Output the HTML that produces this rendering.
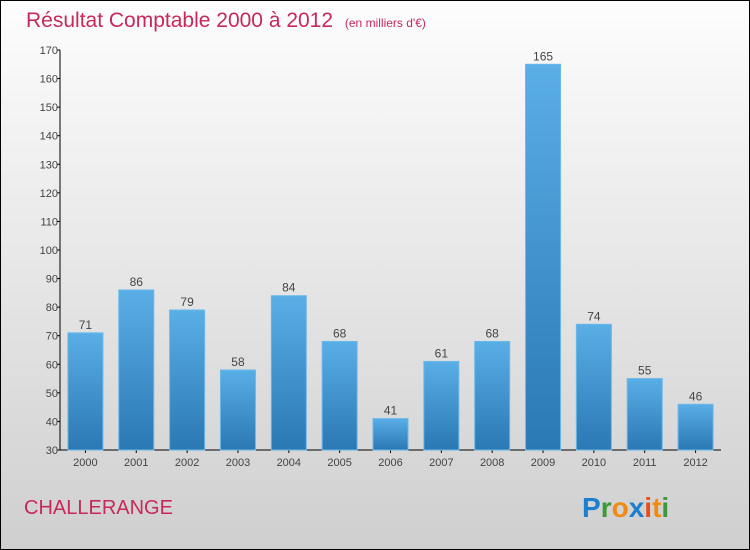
<!DOCTYPE html>
<html><head><meta charset="utf-8"><style>
body{margin:0;width:750px;height:550px;overflow:hidden}
svg{display:block;font-family:"Liberation Sans",sans-serif}
</style></head><body>
<svg id="c" width="750" height="550">
<defs>
<linearGradient id="bg" x1="0" y1="0" x2="0" y2="1"><stop offset="0" stop-color="#fdfdfd"/><stop offset="1" stop-color="#cfcfcf"/></linearGradient>
<linearGradient id="bar" x1="0" y1="0" x2="0" y2="1"><stop offset="0" stop-color="#5aaee6"/><stop offset="1" stop-color="#2a78b4"/></linearGradient>
</defs>
<rect x="0.5" y="0.5" width="749" height="549" fill="url(#bg)" stroke="#000"/>
<text x="26" y="27" font-size="21" fill="#c8285a">Résultat Comptable 2000 à 2012 <tspan font-size="12" dx="6">(en milliers d'€)</tspan></text>
<text x="24" y="514" font-size="20" fill="#c8285a">CHALLERANGE</text>
<g font-size="28" font-weight="bold">
<text x="582" y="517"><tspan fill="#1a7fd0">P</tspan><tspan fill="#3a9a3a">r</tspan><tspan fill="#f08a10">o</tspan><tspan fill="#1a7fd0">x</tspan><tspan fill="#e8501a">i</tspan><tspan fill="#f08a10">t</tspan><tspan fill="#3a9a3a">i</tspan></text>
</g>
<g id="axes"></g>
<g id="bars"></g>
</svg>
<script>
const categories=["2000","2001","2002","2003","2004","2005","2006","2007","2008","2009","2010","2011","2012"];
const values=[71,86,79,58,84,68,41,61,68,165,74,55,46];
const yTicks=[30,40,50,60,70,80,90,100,110,120,130,140,150,160,170];
const NS="http://www.w3.org/2000/svg";
const y0=450,y1=50,vMin=30,vMax=170,xL=60,xR=721;
const y=v=>y0-(v-vMin)*(y0-y1)/(vMax-vMin);
const step=(xR-xL)/categories.length;
const x=i=>xL+step*(i+0.5);
function mk(t,a,p){const e=document.createElementNS(NS,t);for(const k in a)e.setAttribute(k,a[k]);p.appendChild(e);return e;}
const ax=document.getElementById('axes'),bg=document.getElementById('bars');
let l=mk('line',{x1:xL,y1:y1,x2:xL,y2:y0,stroke:'#000'},ax);


l=mk('line',{x1:xL,y1:y0,x2:xR,y2:y0,stroke:'#000'},ax);


yTicks.forEach(v=>{
 const t=mk('line',{x1:xL-3,x2:xL,y1:y(v),y2:y(v),stroke:'#000'},ax);
 
 
 const tx=mk('text',{x:xL-2,y:y(v)+4,'font-size':11,'text-anchor':'end',fill:'#444'},ax);
 tx.textContent=v;
 
 
});
categories.forEach((c,i)=>{
 const cx=x(i),w=35;
 const r=mk('rect',{x:cx-w/2,y:y(values[i]),width:w,height:y0-y(values[i]),fill:'url(#bar)',stroke:'#6bb8ea','stroke-width':1},bg);
 
 
 const vt=mk('text',{x:cx,y:y(values[i])-4,'font-size':12,'text-anchor':'middle',fill:'#444'},bg);
 vt.textContent=values[i];
 
 
 const tk=mk('line',{x1:cx,x2:cx,y1:y0,y2:y0+3,stroke:'#000'},ax);
 
 
 const xt=mk('text',{x:cx,y:y0+16,'font-size':11,'text-anchor':'middle',fill:'#444'},ax);
 xt.textContent=c;
 
 
});
</script>
</body></html>
